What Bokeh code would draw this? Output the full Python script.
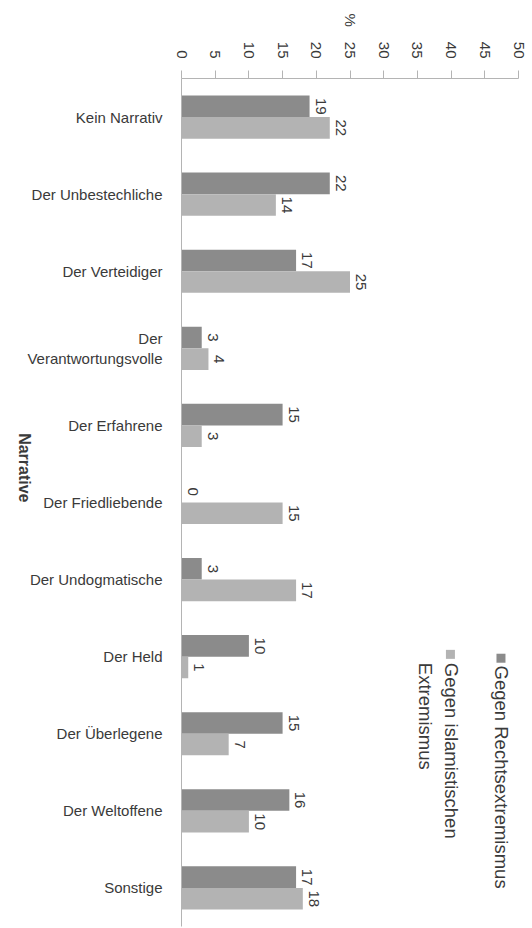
import math
from bokeh.plotting import figure
from bokeh.models import ColumnDataSource, Range1d, FixedTicker, LinearAxis
from bokeh.core.properties import value
from bokeh.embed import file_html
from bokeh.resources import INLINE

categories = ["Kein Narrativ", "Der Unbestechliche", "Der Verteidiger",
              "Der\nVerantwortungsvolle", "Der Erfahrene", "Der Friedliebende",
              "Der Undogmatische", "Der Held", "Der Überlegene", "Der Weltoffene",
              "Sonstige"]
rechts = [19, 22, 17, 3, 15, 0, 3, 10, 15, 16, 17]
islam = [22, 14, 25, 4, 3, 15, 17, 1, 7, 10, 18]
series_names = ["Gegen Rechtsextremismus", "Gegen islamistischen", "Extremismus"]
x_ticks = [0, 5, 10, 15, 20, 25, 30, 35, 40, 45, 50]
x_title = "%"
y_title = "Narrative"

DARK = "#8b8b8b"
LIGHT = "#b3b3b3"
TXT = "#3a3a3a"
FONT = "Liberation Sans"
ROT = -math.pi / 2
OFF = 0.14

n = len(categories)
ypos = [n - i - 0.5 for i in range(n)]   # category slots, top to bottom

src = ColumnDataSource(dict(
    y_r=[y + OFF for y in ypos], y_i=[y - OFF for y in ypos],
    rechts=rechts, islam=islam,
    rechts_lbl=[str(v) for v in rechts], islam_lbl=[str(v) for v in islam],
))

p = figure(width=532, height=928, output_backend="svg", toolbar_location=None,
           x_range=Range1d(0, 50), y_range=Range1d(0, n),
           x_axis_location="above",
           min_border_left=181, min_border_right=14, min_border_top=78, min_border_bottom=2)
p.outline_line_color = None
p.xgrid.grid_line_color = None
p.ygrid.grid_line_color = None
p.background_fill_color = "white"

xa = p.xaxis[0]
xa.ticker = FixedTicker(ticks=x_ticks)
xa.major_label_orientation = ROT
xa.major_tick_out = 8
xa.major_tick_in = 0
xa.minor_tick_line_color = None
xa.major_label_standoff = 12
xa.major_label_text_font = FONT
xa.major_label_text_font_size = "15px"
xa.major_label_text_color = TXT
xa.axis_line_color = "#b4b4b4"
xa.major_tick_line_color = "#b4b4b4"
xa.axis_label = x_title
xa.axis_label_orientation = ROT
xa.axis_label_text_font = FONT
xa.axis_label_text_font_size = "15px"
xa.axis_label_text_font_style = "normal"
xa.axis_label_text_color = TXT
xa.axis_label_standoff = 12

ya = p.yaxis[0]
ya.ticker = FixedTicker(ticks=ypos)
ya.major_label_overrides = {y: c for y, c in zip(ypos, categories)}
ya.major_tick_line_color = None
ya.minor_tick_line_color = None
ya.axis_line_color = "#b4b4b4"
ya.major_label_standoff = 13
ya.major_label_text_font = FONT
ya.major_label_text_font_size = "15px"
ya.major_label_text_color = TXT

# bare axis that only carries the rotated y title
ta = LinearAxis(ticker=FixedTicker(ticks=[]),
                axis_line_color=None, major_tick_line_color=None,
                minor_tick_line_color=None, major_label_text_alpha=0,
                axis_label=y_title, axis_label_orientation=ROT,
                axis_label_standoff=0, axis_label_text_font=FONT,
                axis_label_text_font_size="16px", axis_label_text_font_style="bold",
                axis_label_text_color=TXT, axis_label_text_align="center")
p.add_layout(ta, "left")

p.hbar(y="y_r", right="rechts", left=0, height=0.28, source=src,
       fill_color=DARK, line_color=None)
p.hbar(y="y_i", right="islam", left=0, height=0.28, source=src,
       fill_color=LIGHT, line_color=None)

common = dict(angle=ROT, text_align="center", text_baseline="bottom", x_offset=6,
              text_font=value(FONT), text_font_size="15px", text_color=TXT)
p.text(x="rechts", y="y_r", text="rechts_lbl", source=src, **common)
p.text(x="islam", y="y_i", text="islam_lbl", source=src, **common)

# legend (rotated)
p.scatter(x=[47.4], y=[3.48], marker="square", size=9, fill_color=DARK, line_color=None)
p.scatter(x=[39.9], y=[3.53], marker="square", size=9, fill_color=LIGHT, line_color=None)
leg = dict(angle=ROT, text_align="left", text_baseline="middle",
           text_font=value(FONT), text_font_size="18.5px", text_color=TXT)
p.text(x=[47.5], y=[3.385], text=[series_names[0]], **leg)
p.text(x=[40.1], y=[3.42], text=[series_names[1]], **leg)
p.text(x=[36.2], y=[3.42], text=[series_names[2]], **leg)

open("out.html", "w").write(file_html(p, INLINE))
